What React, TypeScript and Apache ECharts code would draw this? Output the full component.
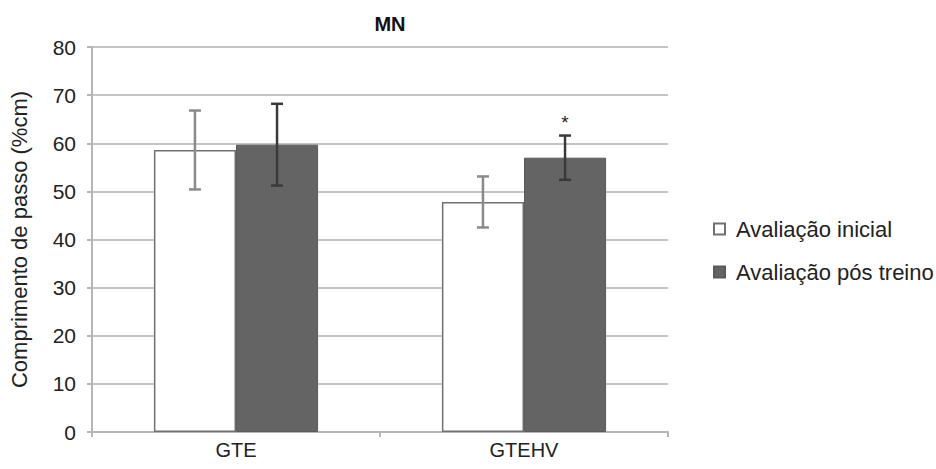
import React, { useEffect, useRef } from "react";
import * as echarts from "echarts";

const categories = ["GTE", "GTEHV"];
const seriesNames = ["Avaliação inicial", "Avaliação pós treino"];
const initialValues = [58.6, 47.8];
const postValues = [59.7, 57.0];
const initialErr = [8.2, 5.3];
const postErr = [8.5, 4.6];
const postSignificant = [false, true];
const yTicks = [0, 10, 20, 30, 40, 50, 60, 70, 80];

const FONT = "Liberation Sans, Arial, sans-serif";
const GAP = 0.43;

export default function App() {
  const ref = useRef<HTMLDivElement>(null);
  useEffect(() => {
    if (!ref.current) return;
    const chart = echarts.init(ref.current, undefined, { renderer: "svg" });

    const errData: any[] = [];
    categories.forEach((_, i) => {
      errData.push([i, initialValues[i] - initialErr[i], initialValues[i] + initialErr[i], 0, 0]);
      errData.push([i, postValues[i] - postErr[i], postValues[i] + postErr[i], 1, postSignificant[i] ? 1 : 0]);
    });

    chart.setOption({
      animation: false,
      backgroundColor: "#ffffff",
      title: {
        text: "MN",
        left: 385,
        top: 9,
        textAlign: "center",
        textStyle: { fontFamily: FONT, fontSize: 20, fontWeight: "bold", color: "#111" },
      },
      legend: {
        orient: "vertical",
        left: 708,
        top: 213,
        itemWidth: 11,
        itemHeight: 11,
        itemGap: 21,
        icon: "rect",
        data: seriesNames,
        textStyle: { fontFamily: FONT, fontSize: 22, color: "#222", padding: [0, 0, 0, 6] },
      },
      grid: { left: 92, right: 268, top: 47, bottom: 37 },
      xAxis: {
        type: "category",
        data: categories,
        axisLine: { lineStyle: { color: "#b5b5b5", width: 2 } },
        axisTick: { show: true, length: 5, lineStyle: { color: "#b5b5b5", width: 2 } },
        axisLabel: { fontFamily: FONT, fontSize: 20, color: "#222", margin: 8 },
      },
      yAxis: {
        type: "value",
        min: yTicks[0],
        max: yTicks[yTicks.length - 1],
        interval: 10,
        name: "Comprimento de passo (%cm)",
        nameLocation: "middle",
        nameGap: 62,
        nameTextStyle: { fontFamily: FONT, fontSize: 22, color: "#222" },
        axisLine: { show: true, lineStyle: { color: "#b5b5b5", width: 2 } },
        axisTick: { show: true, length: 5, lineStyle: { color: "#b5b5b5", width: 2 } },
        axisLabel: { fontFamily: FONT, fontSize: 21, color: "#222", margin: 16 },
        splitLine: { lineStyle: { color: "#c4c4c4", width: 2 } },
      },
      series: [
        {
          name: seriesNames[0],
          type: "bar",
          data: initialValues,
          barGap: "0%",
          barCategoryGap: GAP * 100 + "%",
          itemStyle: { color: "#ffffff", borderColor: "#707070", borderWidth: 1.5 },
        },
        {
          name: seriesNames[1],
          type: "bar",
          data: postValues,
          barGap: "0%",
          barCategoryGap: GAP * 100 + "%",
          itemStyle: { color: "#646464", borderColor: "#5a5a5a", borderWidth: 1 },
        },
        {
          type: "custom",
          name: "err",
          data: errData,
          z: 10,
          encode: { x: 0, y: [1, 2] },
          renderItem: (params: any, api: any) => {
            const cat = api.value(0);
            const lo = api.value(1);
            const hi = api.value(2);
            const which = api.value(3);
            const sig = api.value(4);
            const band = api.size([1, 0])[0];
            const bw = (band * (1 - GAP)) / 2;
            const off = which === 0 ? -bw / 2 : bw / 2;
            const pHi = api.coord([cat, hi]);
            const pLo = api.coord([cat, lo]);
            const x = pHi[0] + off;
            const cap = 6;
            const color = which === 0 ? "#8a8a8a" : "#3a3a3a";
            const style = { stroke: color, lineWidth: 2.5 };
            const children: any[] = [
              { type: "line", shape: { x1: x, y1: pHi[1], x2: x, y2: pLo[1] }, style },
              { type: "line", shape: { x1: x - cap, y1: pHi[1], x2: x + cap, y2: pHi[1] }, style },
              { type: "line", shape: { x1: x - cap, y1: pLo[1], x2: x + cap, y2: pLo[1] }, style },
            ];
            if (sig) {
              children.push({
                type: "text",
                style: {
                  text: "*",
                  x: x,
                  y: pHi[1] - 4,
                  textAlign: "center",
                  textVerticalAlign: "bottom",
                  fontFamily: FONT,
                  fontSize: 19,
                  fill: "#222",
                },
              });
            }
            return { type: "group", children };
          },
        },
      ],
    });
    return () => chart.dispose();
  }, []);
  return <div ref={ref} style={{ width: 936, height: 469, position: "absolute", left: 0, top: 0 }} />;
}
